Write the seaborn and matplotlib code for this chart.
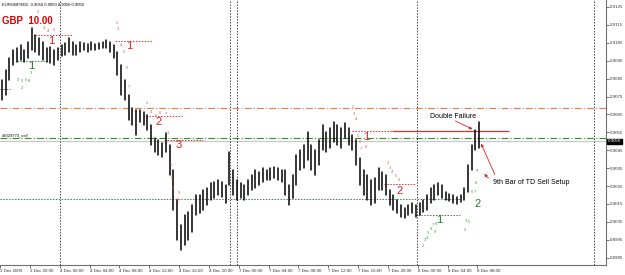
import numpy as np
import pandas as pd
import matplotlib
matplotlib.use("Agg")
import matplotlib.pyplot as plt
import seaborn as sns

# ---------------- data ----------------
# 30-minute high/low ranges of EURGBP
bar_high = [0.90842, 0.90898, 0.90965, 0.91010, 0.91021, 0.91038, 0.91010, 0.91054, 0.91133, 0.91094,
            0.91077, 0.91054, 0.91021, 0.91027, 0.91010, 0.91021, 0.91038, 0.91049, 0.91077, 0.91054,
            0.91038, 0.91054, 0.91049, 0.91043, 0.91054, 0.91043, 0.91049, 0.91054, 0.91066, 0.91054,
            0.91038, 0.90999, 0.90926, 0.90842, 0.90758, 0.90686, 0.90675, 0.90675, 0.90663, 0.90647,
            0.90591, 0.90518, 0.90507, 0.90490, 0.90546, 0.90479, 0.90339, 0.90172, 0.90032, 0.90088,
            0.90105, 0.90144, 0.90200, 0.90200, 0.90228, 0.90239, 0.90267, 0.90272, 0.90284, 0.90272,
            0.90256, 0.90440, 0.90339, 0.90284, 0.90267, 0.90256, 0.90284, 0.90311, 0.90339, 0.90328,
            0.90351, 0.90339, 0.90351, 0.90356, 0.90351, 0.90339, 0.90339, 0.90256, 0.90311, 0.90423,
            0.90451, 0.90479, 0.90552, 0.90479, 0.90451, 0.90507, 0.90591, 0.90552, 0.90574, 0.90608,
            0.90591, 0.90574, 0.90602, 0.90574, 0.90535, 0.90507, 0.90406, 0.90339, 0.90311, 0.90284,
            0.90295, 0.90351, 0.90328, 0.90311, 0.90228, 0.90200, 0.90172, 0.90144, 0.90127, 0.90144,
            0.90155, 0.90144, 0.90155, 0.90172, 0.90200, 0.90239, 0.90256, 0.90267, 0.90256, 0.90216,
            0.90205, 0.90200, 0.90189, 0.90200, 0.90239, 0.90367, 0.90479, 0.90563, 0.90608]
bar_low = [0.90730, 0.90758, 0.90842, 0.90926, 0.90943, 0.90954, 0.90943, 0.90965, 0.91010, 0.90999,
           0.90982, 0.90954, 0.90943, 0.90937, 0.90926, 0.90954, 0.90976, 0.90982, 0.90999, 0.90982,
           0.90982, 0.90999, 0.91010, 0.90999, 0.91010, 0.91010, 0.91015, 0.91021, 0.91021, 0.90999,
           0.90965, 0.90870, 0.90758, 0.90730, 0.90619, 0.90591, 0.90535, 0.90608, 0.90591, 0.90563,
           0.90479, 0.90440, 0.90423, 0.90412, 0.90440, 0.90311, 0.90116, 0.89948, 0.89892, 0.89920,
           0.89948, 0.89993, 0.90088, 0.90099, 0.90116, 0.90144, 0.90172, 0.90183, 0.90200, 0.90189,
           0.90155, 0.90256, 0.90200, 0.90172, 0.90183, 0.90172, 0.90200, 0.90228, 0.90239, 0.90256,
           0.90272, 0.90284, 0.90284, 0.90295, 0.90284, 0.90272, 0.90200, 0.90144, 0.90183, 0.90256,
           0.90339, 0.90351, 0.90395, 0.90339, 0.90311, 0.90367, 0.90451, 0.90440, 0.90462, 0.90496,
           0.90479, 0.90462, 0.90518, 0.90479, 0.90451, 0.90367, 0.90256, 0.90200, 0.90172, 0.90144,
           0.90155, 0.90228, 0.90228, 0.90200, 0.90144, 0.90116, 0.90099, 0.90077, 0.90071, 0.90088,
           0.90099, 0.90077, 0.90088, 0.90105, 0.90116, 0.90155, 0.90172, 0.90200, 0.90183, 0.90172,
           0.90166, 0.90155, 0.90149, 0.90161, 0.90172, 0.90216, 0.90339, 0.90451, 0.90462]
bar_index = np.arange(1, 2 * len(bar_high), 2)   # M15 bar index of each 30-min bar

x_tick_pos = [0, 16, 32, 48, 64, 80, 96, 112, 128, 144, 160, 176, 192, 208, 224, 240, 256]
x_tick_labels = ["3 Dec 2009", "3 Dec 20:00", "4 Dec 00:00", "4 Dec 04:00", "4 Dec 08:00",
                 "4 Dec 12:00", "4 Dec 16:00", "4 Dec 20:00", "7 Dec 00:00", "7 Dec 04:00",
                 "7 Dec 08:00", "7 Dec 12:00", "7 Dec 16:00", "7 Dec 20:00", "8 Dec 00:00",
                 "8 Dec 04:00", "8 Dec 08:00"]
y_ticks = [0.9125, 0.9115, 0.9105, 0.9095, 0.9085, 0.9075, 0.9065, 0.9055, 0.9045,
           0.9035, 0.9025, 0.9015, 0.9005, 0.8995, 0.8985]
current_price = 0.9050

v_lines = [32, 123.3, 127.1, 223.6, 318.5]

orange_level = 0.90686
sell_level = 0.90518
green_long_level = 0.90177
green_long_end = 246.6

red_tdst_y = [0.91094, 0.91060, 0.90641, 0.90507, 0.90557, 0.90261]
red_tdst_x0 = [18.8, 61.7, 76.7, 89.5, 188.7, 206.0]
red_tdst_x1 = [39.0, 81.5, 97.6, 108.8, 210.0, 222.5]
red_solid_y, red_solid_x0, red_solid_x1 = 0.90557, 210.0, 273.0

green_tdst_y = [0.90948, 0.90792, 0.90088]
green_tdst_x0 = [9.0, 0.0, 222.5]
green_tdst_x1 = [25.0, 5.4, 246.6]

red_small_txt = ["2", "3", "4", "5", "2", "3", "4", "5", "6", "7",
                 "2", "4", "5", "6", "7", "3", "5", "6", "6", "9", "8",
                 "2", "3", "4", "5", "6", "7", "8", "2", "3", "4", "5", "6"]
red_small_x = [20.4, 23.5, 26.0, 29.2, 62.7, 63.3, 64.9, 66.5, 68.1, 69.2,
               78.8, 80.8, 83.4, 86.0, 89.0, 90.1, 91.7, 92.2, 92.8, 96.0, 95.4,
               189.3, 189.8, 190.9, 192.0, 193.0, 193.6, 196.0, 207.8, 209.0, 210.5, 212.2, 213.8]
red_small_y = [0.91222, 0.91133, 0.91116, 0.91122, 0.91161, 0.91127, 0.91038, 0.90999, 0.90909, 0.90803,
               0.90714, 0.90665, 0.90640, 0.90660, 0.90652, 0.90546, 0.90367, 0.90295, 0.90239, 0.90211, 0.90172,
               0.90691, 0.90652, 0.90624, 0.90529, 0.90496, 0.90457, 0.90470, 0.90378, 0.90350, 0.90328, 0.90306, 0.90284]

green_small_txt = ["3", "2", "5", "6", "8", "2", "2", "3", "4", "5", "6", "7", "8", "9",
                   "2", "3", "5", "6", "7", "8", "9"]
green_small_x = [16.6, 9.7, 11.8, 13.9, 15.5, 11.8, 226.8, 227.9, 229.0, 229.8, 231.0, 232.0, 233.6, 233.0,
                 249.3, 249.9, 251.5, 253.1, 254.6, 255.2, 255.8]
green_small_y = [0.90881, 0.90842, 0.90837, 0.90842, 0.90837, 0.90797, 0.89915, 0.89948, 0.89960, 0.89985,
                 0.90010, 0.90030, 0.90040, 0.89995, 0.90004, 0.90054, 0.90049, 0.90216, 0.90216, 0.90267, 0.90334]

red_big_txt = ["1", "1", "2", "3", "1", "2"]
red_big_x = [27.3, 69.2, 85.3, 96.0, 196.2, 214.5]
red_big_y = [0.91060, 0.91032, 0.90608, 0.90479, 0.90524, 0.90222]
green_big_txt = ["1", "1", "2"]
green_big_x = [16.6, 235.8, 256.3]
green_big_y = [0.90920, 0.90060, 0.90149]

# ---------------- figure ----------------
sns.set_theme(style="white")
plt.rcParams["font.family"] = ["Liberation Sans", "DejaVu Sans"]

fig = plt.figure(figsize=(6.25, 2.75), dpi=100)
ax = fig.add_axes([0, 10 / 275, 606 / 625, 265 / 275])
ax.set_facecolor("white")

# horizontal reference lines
ax.axhline(orange_level, color="#e07a50", lw=0.8, ls=(0, (6, 2, 1, 2)))
ax.axhline(sell_level, color="#2e8b2e", lw=0.8, ls=(0, (6, 2, 1, 2)))
ax.axhline(current_price, color="#c8c8c8", lw=0.9)
ax.hlines(green_long_level, 0, green_long_end, color="#2e8b2e", lw=0.7, ls=(0, (1.5, 1.5)))

# vertical separators
for v in v_lines:
    ax.axvline(v, color="#444444", lw=0.7, ls=(0, (1.5, 1.5)))

# TDST levels
ax.hlines(red_tdst_y, red_tdst_x0, red_tdst_x1, color="#e03030", lw=0.7, ls=(0, (1.5, 1.5)))
ax.hlines(red_solid_y, red_solid_x0, red_solid_x1, color="#e03030", lw=0.9)
ax.hlines(green_tdst_y, green_tdst_x0, green_tdst_x1, color="#2e8b2e", lw=0.7, ls=(0, (1.5, 1.5)))

# price bars (high-low) drawn with seaborn
df = pd.DataFrame({
    "x": np.concatenate([bar_index, bar_index]),
    "price": np.concatenate([bar_low, bar_high]),
    "bar": np.concatenate([bar_index, bar_index]),
})
sns.lineplot(data=df, x="x", y="price", units="bar", estimator=None, sort=False,
             color="black", lw=1.1, ax=ax, legend=False)

# TD count digits
for t, x, y in zip(red_small_txt, red_small_x, red_small_y):
    ax.text(x, y, t, color="#e05050", fontsize=3, ha="center", va="center")
for t, x, y in zip(green_small_txt, green_small_x, green_small_y):
    ax.text(x, y, t, color="#3a9a3a", fontsize=3, ha="center", va="center")
for t, x, y in zip(red_big_txt, red_big_x, red_big_y):
    ax.text(x, y, t, color="#e02020", fontsize=8, ha="center", va="center")
for t, x, y in zip(green_big_txt, green_big_x, green_big_y):
    ax.text(x, y, t, color="#1a801a", fontsize=8, ha="center", va="center")

# annotations
ax.text(230.5, 0.90636, "Double Failure", fontsize=5, color="black", ha="left", va="center")
ax.annotate("", xy=(254.7, 0.90561), xytext=(242.9, 0.90620),
            arrowprops=dict(arrowstyle="-|>", color="#e02020", lw=0.6, mutation_scale=4))
ax.text(264.5, 0.90272, "9th Bar of TD Sell Setup", fontsize=5, color="black", ha="left", va="center")
ax.annotate("", xy=(257.4, 0.90501), xytext=(266.0, 0.90300),
            arrowprops=dict(arrowstyle="-|>", color="#e02020", lw=0.6, mutation_scale=4))
ax.annotate("", xy=(258.6, 0.90328), xytext=(263.0, 0.90284),
            arrowprops=dict(arrowstyle="-|>", color="#e02020", lw=0.6, mutation_scale=4))
ax.text(1, sell_level + 0.00004, "#3029773_sell", fontsize=3, color="black", ha="left", va="bottom")

ax.text(0.003, 0.99, "EURGBP,M15  0.9050 0.9050 0.9050 0.9050", transform=ax.transAxes,
        fontsize=3, color="black", ha="left", va="top")
ax.text(0.004, 0.92, "GBP  10.00", transform=ax.transAxes, fontsize=7,
        fontweight="bold", color="#e00000", ha="left", va="center")

# axes
ax.set_xlim(0, 325)
ax.set_ylim(0.89809, 0.91289)
ax.set_xlabel("")
ax.set_ylabel("")
ax.set_xticks(x_tick_pos)
ax.set_xticklabels(x_tick_labels)
for lab in ax.get_xticklabels():
    lab.set_ha("left")
ax.set_yticks(y_ticks)
ax.set_yticklabels([f"{v:.4f}" for v in y_ticks])
ax.yaxis.tick_right()
ax.tick_params(axis="both", labelsize=3.2, length=2, width=0.5, pad=1, colors="#333333")
ax.tick_params(axis="x", bottom=True)
ax.tick_params(axis="y", right=True)
for s in ["top", "left"]:
    ax.spines[s].set_visible(False)
for s in ["right", "bottom"]:
    ax.spines[s].set_color("#707070")
    ax.spines[s].set_linewidth(0.8)

ax.annotate(f"{current_price:.4f}", xy=(1, current_price), xycoords=("axes fraction", "data"),
            xytext=(1.5, 0), textcoords="offset points", fontsize=3.2, color="white",
            ha="left", va="center", annotation_clip=False,
            bbox=dict(boxstyle="square,pad=0.15", fc="black", ec="black"))

fig.savefig("out.png", dpi=100)
